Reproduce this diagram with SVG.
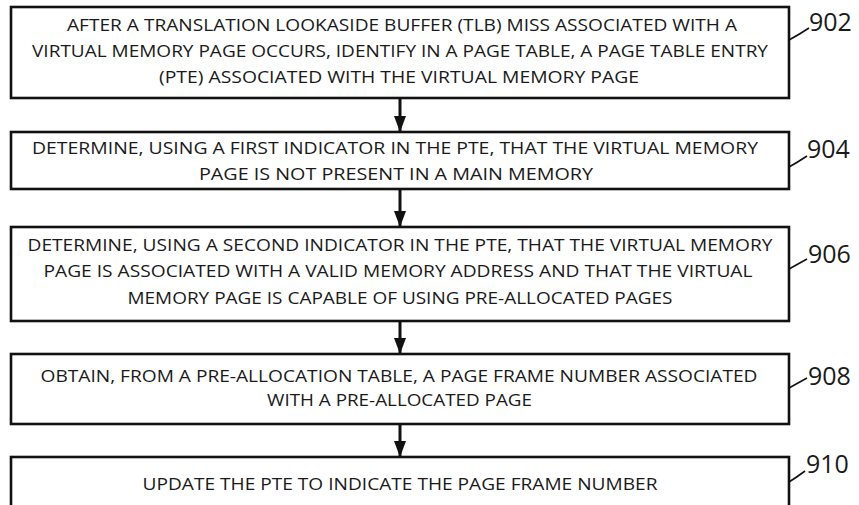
<svg xmlns="http://www.w3.org/2000/svg" width="859" height="505" viewBox="0 0 859 505">
<defs>
<style>
.box{fill:#fff;stroke:#111;stroke-width:2.6}
.t{font-family:"Open Sans","Liberation Sans",sans-serif;font-size:17px;fill:#1a1a1a;text-anchor:middle}
.lbl{font-family:"Open Sans","Liberation Sans",sans-serif;font-size:25px;fill:#1a1a1a}
.ld{fill:none;stroke:#111;stroke-width:1.6}
.ar{stroke:#111;stroke-width:3;fill:none}
</style>
<marker id="ah" markerWidth="16" markerHeight="12" refX="16" refY="6" orient="auto" markerUnits="userSpaceOnUse">
<path d="M0,0 L16,6 L0,12 Z" fill="#111"/>
</marker>
</defs>
<rect width="859" height="505" fill="#fff"/>
<g id="connectors">
<line class="ar" x1="400" y1="98" x2="400" y2="132" marker-end="url(#ah)"/>
<line class="ar" x1="400" y1="189" x2="400" y2="227" marker-end="url(#ah)"/>
<line class="ar" x1="400" y1="321" x2="400" y2="354" marker-end="url(#ah)"/>
<line class="ar" x1="400" y1="424" x2="400" y2="457" marker-end="url(#ah)"/>
</g>
<g id="n902">
<rect class="box" x="11" y="7" width="778" height="91"/>
<text class="t" x="402" y="30.5" textLength="670" lengthAdjust="spacingAndGlyphs">AFTER A TRANSLATION LOOKASIDE BUFFER (TLB) MISS ASSOCIATED WITH A</text>
<text class="t" x="400" y="56.5" textLength="736" lengthAdjust="spacingAndGlyphs">VIRTUAL MEMORY PAGE OCCURS, IDENTIFY IN A PAGE TABLE, A PAGE TABLE ENTRY</text>
<text class="t" x="399" y="82.5" textLength="480" lengthAdjust="spacingAndGlyphs">(PTE) ASSOCIATED WITH THE VIRTUAL MEMORY PAGE</text>
<path class="ld" d="M789,40 Q800,34 809,28"/>
<text class="lbl" x="809" y="31">902</text>
</g>
<g id="n904">
<rect class="box" x="11" y="132" width="778" height="57"/>
<text class="t" x="395" y="153.5" textLength="726" lengthAdjust="spacingAndGlyphs">DETERMINE, USING A FIRST INDICATOR IN THE PTE, THAT THE VIRTUAL MEMORY</text>
<text class="t" x="396" y="179.5" textLength="394" lengthAdjust="spacingAndGlyphs">PAGE IS NOT PRESENT IN A MAIN MEMORY</text>
<path class="ld" d="M789,167 Q798,162 807,156"/>
<text class="lbl" x="807" y="158">904</text>
</g>
<g id="n906">
<rect class="box" x="11" y="227" width="778" height="94"/>
<text class="t" x="400" y="250.5" textLength="745" lengthAdjust="spacingAndGlyphs">DETERMINE, USING A SECOND INDICATOR IN THE PTE, THAT THE VIRTUAL MEMORY</text>
<text class="t" x="398" y="277" textLength="709" lengthAdjust="spacingAndGlyphs">PAGE IS ASSOCIATED WITH A VALID MEMORY ADDRESS AND THAT THE VIRTUAL</text>
<text class="t" x="400" y="303.5" textLength="545" lengthAdjust="spacingAndGlyphs">MEMORY PAGE IS CAPABLE OF USING PRE-ALLOCATED PAGES</text>
<path class="ld" d="M789,269 Q798,264 807,259"/>
<text class="lbl" x="808" y="263">906</text>
</g>
<g id="n908">
<rect class="box" x="11" y="354" width="778" height="70"/>
<text class="t" x="399" y="382" textLength="717" lengthAdjust="spacingAndGlyphs">OBTAIN, FROM A PRE-ALLOCATION TABLE, A PAGE FRAME NUMBER ASSOCIATED</text>
<text class="t" x="399.5" y="406" textLength="265" lengthAdjust="spacingAndGlyphs">WITH A PRE-ALLOCATED PAGE</text>
<path class="ld" d="M789,388 Q798,383 807,378"/>
<text class="lbl" x="808" y="385">908</text>
</g>
<g id="n910">
<rect class="box" x="11" y="457" width="778" height="60"/>
<text class="t" x="400" y="490" textLength="515" lengthAdjust="spacingAndGlyphs">UPDATE THE PTE TO INDICATE THE PAGE FRAME NUMBER</text>
<path class="ld" d="M789,482 Q797,477 805,471"/>
<text class="lbl" x="806" y="473">910</text>
</g>
</svg>
